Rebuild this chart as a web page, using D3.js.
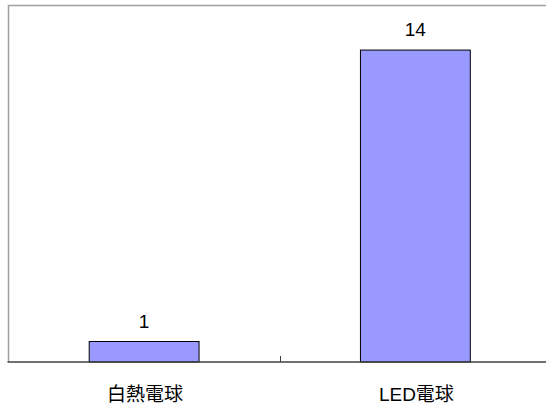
<!DOCTYPE html>
<html>
<head>
<meta charset="utf-8">
<script src="https://cdn.jsdelivr.net/npm/d3@7"></script>
<style>
  body { margin: 0; background: #fff; }
  text { font-family: Arial, "Liberation Sans", "Noto Sans CJK JP", sans-serif; fill: #000; }
</style>
</head>
<body>
<svg width="546" height="405"></svg>
<script>
// chart data
var categories = ["白熱電球", "LED電球"];
var values = [0.92, 14];
var yMax = 16;

// note: "top" is reserved on window, so use plotTop etc.
var svg = d3.select("svg"),
    width = +svg.attr("width"),
    height = +svg.attr("height"),
    plotLeft = 8.5,
    plotRight = 551,
    plotTop = 5.5,
    plotBottom = 362;

var x = d3.scaleBand()
    .domain(categories)
    .range([plotLeft, plotRight]);

var y = d3.scaleLinear()
    .domain([0, yMax])
    .range([plotBottom, plotTop]);

var fmt = d3.format(".0f");
var barW = x.bandwidth() * 0.405;

// plot border (top + left)
svg.append("path")
    .attr("d", "M" + plotLeft + "," + plotBottom + "V" + plotTop + "H" + width)
    .attr("fill", "none")
    .attr("stroke", "#a0a0a0")
    .attr("stroke-width", 1.5);

// bars
svg.append("g")
  .selectAll("rect")
  .data(values)
  .enter().append("rect")
    .attr("x", function(d, i) { return x(categories[i]) + x.bandwidth() / 2 - barW / 2; })
    .attr("y", function(d) { return y(d); })
    .attr("width", barW)
    .attr("height", function(d) { return y(0) - y(d); })
    .attr("fill", "#9999ff")
    .attr("stroke", "#000")
    .attr("stroke-width", 1);

// value labels
svg.append("g")
  .selectAll("text")
  .data(values)
  .enter().append("text")
    .attr("x", function(d, i) { return x(categories[i]) + x.bandwidth() / 2; })
    .attr("y", function(d) { return y(d) - 14; })
    .attr("text-anchor", "middle")
    .style("font-size", "19px")
    .text(function(d) { return fmt(d); });

// x axis, ticks on category boundaries pointing inward
var axis = svg.append("g").attr("transform", "translate(0," + plotBottom + ")");
axis.append("line")
    .attr("x1", plotLeft - 1)
    .attr("x2", width)
    .attr("stroke", "#404040")
    .attr("stroke-width", 1.5);
axis.selectAll(".tick")
  .data(categories.slice(1))
  .enter().append("line")
    .attr("x1", function(d) { return Math.round(x(d)) + 0.5; })
    .attr("x2", function(d) { return Math.round(x(d)) + 0.5; })
    .attr("y1", 0)
    .attr("y2", -6)
    .attr("stroke", "#404040");

axis.selectAll("text.cat")
  .data(categories)
  .enter().append("text")
    .attr("class", "cat")
    .attr("x", function(d) { return x(d) + x.bandwidth() / 2 + 1; })
    .attr("y", 39)
    .attr("text-anchor", "middle")
    .style("font-size", "19px")
    .text(function(d) { return d; });
</script>
</body>
</html>
